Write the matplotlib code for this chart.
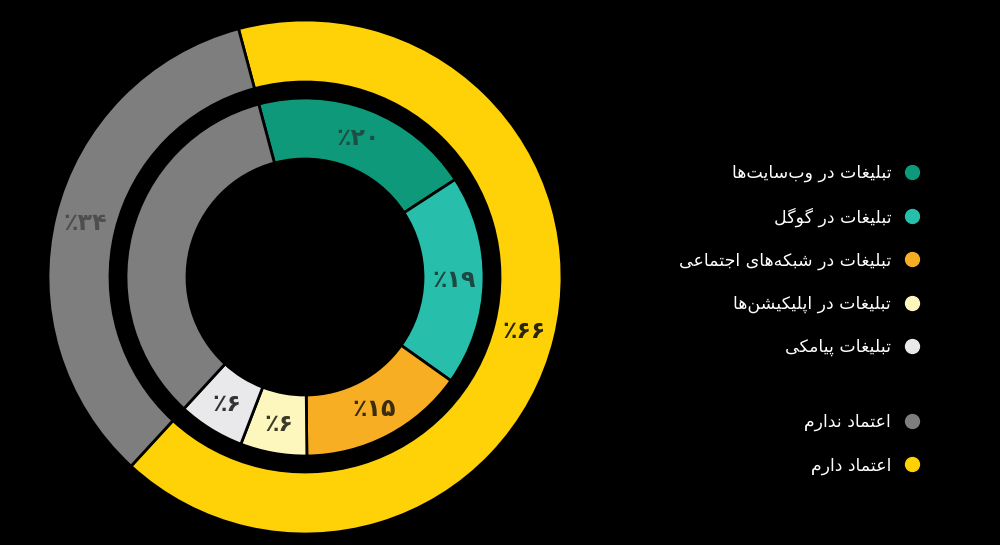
import matplotlib.pyplot as plt
from matplotlib.lines import Line2D
import numpy as np

# داده‌ها
trust_labels = ['اعتماد دارم', 'اعتماد ندارم']
trust_values = [66, 34]
trust_colors = ['#FED206', '#7E7E7E']
trust_pct = ['٪۶۶', '٪۳۴']

ad_labels = ['تبلیغات در وب‌سایت‌ها', 'تبلیغات در گوگل', 'تبلیغات در شبکه‌های اجتماعی',
             'تبلیغات در اپلیکیشن‌ها', 'تبلیغات پیامکی']
ad_values = [20, 19, 15, 6, 6]
ad_colors = ['#0E9A7A', '#27BFAC', '#F8AE23', '#FEF7BD', '#E9E9EB']
ad_pct = ['٪۲۰', '٪۱۹', '٪۱۵', '٪۶', '٪۶']

# شکل‌دهی ساده حروف فارسی (matplotlib حروف را به هم وصل نمی‌کند)
FORMS = {
    'ا': ('\uFE8D', '\uFE8E', None, None),
    'د': ('\uFEA9', '\uFEAA', None, None),
    'ر': ('\uFEAD', '\uFEAE', None, None),
    'و': ('\uFEED', '\uFEEE', None, None),
    'ب': ('\uFE8F', '\uFE90', '\uFE91', '\uFE92'),
    'پ': ('\uFB56', '\uFB57', '\uFB58', '\uFB59'),
    'ت': ('\uFE95', '\uFE96', '\uFE97', '\uFE98'),
    'ج': ('\uFE9D', '\uFE9E', '\uFE9F', '\uFEA0'),
    'س': ('\uFEB1', '\uFEB2', '\uFEB3', '\uFEB4'),
    'ش': ('\uFEB5', '\uFEB6', '\uFEB7', '\uFEB8'),
    'ع': ('\uFEC9', '\uFECA', '\uFECB', '\uFECC'),
    'غ': ('\uFECD', '\uFECE', '\uFECF', '\uFED0'),
    'ک': ('\uFB8E', '\uFB8F', '\uFB90', '\uFB91'),
    'گ': ('\uFB92', '\uFB93', '\uFB94', '\uFB95'),
    'ل': ('\uFEDD', '\uFEDE', '\uFEDF', '\uFEE0'),
    'م': ('\uFEE1', '\uFEE2', '\uFEE3', '\uFEE4'),
    'ن': ('\uFEE5', '\uFEE6', '\uFEE7', '\uFEE8'),
    'ه': ('\uFEE9', '\uFEEA', '\uFEEB', '\uFEEC'),
    'ی': ('\uFBFC', '\uFBFD', '\uFBFE', '\uFBFF'),
}


def shape(text):
    out = []
    for i, ch in enumerate(text):
        if ch not in FORMS:
            if ch != '\u200c':
                out.append(ch)
            continue
        prev = text[i - 1] if i > 0 else ''
        nxt = text[i + 1] if i + 1 < len(text) else ''
        join_prev = prev in FORMS and FORMS[prev][2] is not None
        join_next = nxt in FORMS and FORMS[ch][2] is not None
        iso, fin, ini, med = FORMS[ch]
        if join_prev and join_next:
            out.append(med)
        elif join_prev:
            out.append(fin)
        elif join_next:
            out.append(ini)
        else:
            out.append(iso)
    return ''.join(reversed(out))


plt.rcParams['font.family'] = ['DejaVu Sans']

fig = plt.figure(figsize=(10, 5.45), dpi=100, facecolor='black')
ax = fig.add_axes([0, 0, 1, 1])
ax.set_facecolor('black')

cx, cy = 305, 268
start = 105

outer, _ = ax.pie(trust_values, colors=trust_colors, radius=257, center=(cx, cy),
                  startangle=start, counterclock=False,
                  wedgeprops=dict(width=62, edgecolor='black', linewidth=2))
inner_vals = ad_values + [trust_values[1]]
inner_cols = ad_colors + [trust_colors[1]]
inner, _ = ax.pie(inner_vals, colors=inner_cols, radius=179, center=(cx, cy),
                  startangle=start, counterclock=False,
                  wedgeprops=dict(width=61, edgecolor='black', linewidth=2))

ax.set_xlim(0, 1000)
ax.set_ylim(0, 545)
ax.set_aspect('equal')
ax.axis('off')


def put_label(w, txt, r, color):
    ang = np.deg2rad((w.theta1 + w.theta2) / 2)
    ax.text(cx + r * np.cos(ang), cy + r * np.sin(ang), txt, ha='center', va='center',
            fontsize=17, fontweight='bold', color=color)


put_label(outer[0], trust_pct[0], 226, '#2a2608')
put_label(outer[1], trust_pct[1], 226, '#4e4e4e')
pct_cols = ['#1f4d44', '#1c4742', '#3a2c10', '#3a3a2a', '#333336']
for w, t, c in zip(inner[:5], ad_pct, pct_cols):
    put_label(w, t, 149, c)

h1 = [Line2D([], [], marker='o', ls='none', markersize=10, markerfacecolor=c,
             markeredgecolor=c) for c in ad_colors]
leg1 = ax.legend(h1, [shape(s) for s in ad_labels], markerfirst=False, frameon=False,
                 loc='upper right', bbox_to_anchor=(0.938, 0.715), labelcolor='white',
                 fontsize=12.5, labelspacing=1.43, handletextpad=0.2, borderpad=0)
ax.add_artist(leg1)

h2 = [Line2D([], [], marker='o', ls='none', markersize=10, markerfacecolor=c,
             markeredgecolor=c) for c in trust_colors[::-1]]
ax.legend(h2, [shape(s) for s in trust_labels[::-1]], markerfirst=False, frameon=False,
          loc='upper right', bbox_to_anchor=(0.938, 0.258), labelcolor='white',
          fontsize=12.5, labelspacing=1.43, handletextpad=0.2, borderpad=0)

fig.savefig('out.png', dpi=100, facecolor='black')
